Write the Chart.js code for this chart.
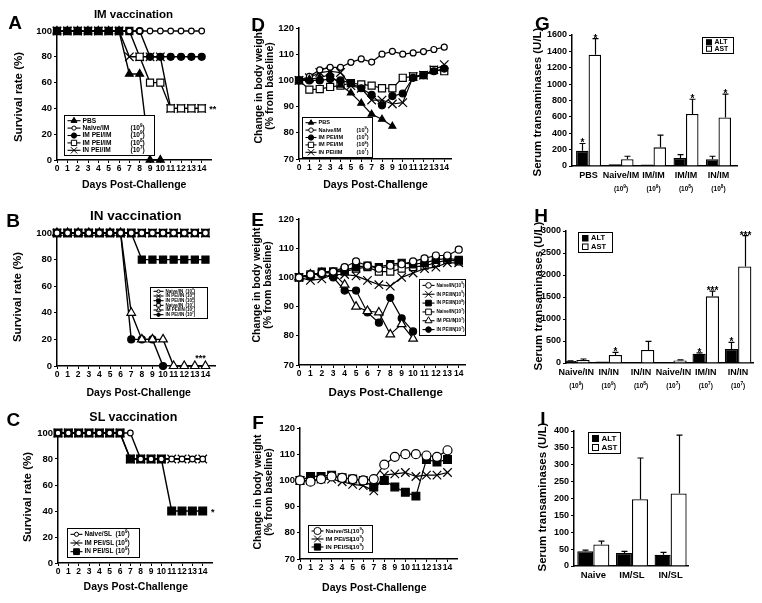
<!DOCTYPE html>
<html>
<head>
<meta charset="utf-8">
<script src="https://cdn.jsdelivr.net/npm/chart.js@4.4.1/dist/chart.umd.min.js"></script>
<style>
body { margin: 0; background: #fff; }
#page { position: relative; width: 762px; height: 603px; overflow: hidden; background: #fff;
        font-family: Arial, "Liberation Sans", sans-serif; font-weight: bold; color: #000; }
#page canvas { position: absolute; }
.t { position: absolute; white-space: nowrap; line-height: 1; transform: translate(-50%, -50%); }
.r { transform: translate(-50%, -50%) rotate(-90deg); }
</style>
</head>
<body>
<div id="page"></div>
<script>
// ---- data ----
const days = [0, 1, 2, 3, 4, 5, 6, 7, 8, 9, 10, 11, 12, 13, 14];

// A: IM vaccination, survival (%)
const namesA = ['PBS', 'Naive/IM', 'IM PEI/IM', 'IM PEI/IM', 'IN PEI/IM'];
const dosesA = ['', '9', '9', '8', '7'];
const survPbsA   = [100, 100, 100, 100, 100, 100, 100, 66.7, 66.7, 0, 0];
const survNaiveA = [100, 100, 100, 100, 100, 100, 100, 100, 100, 100, 100, 100, 100, 100, 100];
const survIm9A   = [100, 100, 100, 100, 100, 100, 100, 100, 100, 80, 80, 80, 80, 80, 80];
const survIm8A   = [100, 100, 100, 100, 100, 100, 100, 100, 80, 60, 60, 40, 40, 40, 40];
const survIn7A   = [100, 100, 100, 100, 100, 100, 100, 80, 80, 80, 80, 40, 40, 40, 40];
const starA = { day: 14, value: 40, text: '**' };

// B: IN vaccination, survival (%)
const namesB = ['Naive/IN', 'IN PEI/IN', 'IN PEI/IN', 'Naive/IN', 'IM PEI/IN', 'IN PEI/IN'];
const dosesB = ['9', '9', '8', '7', '7', '7'];
const survNaive9B = [100, 100, 100, 100, 100, 100, 100, 100, 100, 100, 100, 100, 100, 100, 100];
const survIn9B    = [100, 100, 100, 100, 100, 100, 100, 100, 100, 100, 100, 100, 100, 100, 100];
const survIn8B    = [100, 100, 100, 100, 100, 100, 100, 100, 80, 80, 80, 80, 80, 80, 80];
const survNaive7B = [100, 100, 100, 100, 100, 100, 100, 100, 100, 100, 100, 100, 100, 100, 100];
const survIm7B    = [100, 100, 100, 100, 100, 100, 100, 40, 20, 20, 20, 0, 0, 0, 0];
const survIn7B    = [100, 100, 100, 100, 100, 100, 100, 20, 20, 20, 0];
const starB = { day: 14, value: 0, text: '***' };

// C: SL vaccination, survival (%)
const namesC = ['Naive/SL', 'IM PEI/SL', 'IN PEI/SL'];
const dosesC = ['9', '9', '9'];
const survNaiveC = [100, 100, 100, 100, 100, 100, 100, 100, 80, 80, 80, 80, 80, 80, 80];
const survImC    = [100, 100, 100, 100, 100, 100, 100, 80, 80, 80, 80, 80, 80, 80, 80];
const survInC    = [100, 100, 100, 100, 100, 100, 100, 80, 80, 80, 80, 40, 40, 40, 40];
const starC = { day: 14, value: 40, text: '*' };

// D: body weight (% of baseline), IM groups
const wtPbsD   = [100, 100.5, 101, 102.3, 98.2, 95.2, 91.3, 87.1, 85.2, 82.5];
const wtNaiveD = [100, 101.5, 104, 105, 105, 106.9, 108.2, 107, 110, 111.1, 110, 110.5, 111, 111.8, 112.7];
const wtIm9D   = [100, 100, 100, 100.5, 100, 99, 97, 94.5, 90.5, 94, 95, 101, 102, 103.5, 104.5];
const wtIm8D   = [100, 96.5, 96.7, 97.5, 98, 99, 98.5, 98, 97, 97, 101, 101.5, 102, 104, 103.5];
const wtIn7D   = [100, 101, 103, 103.5, 103, 98, 97, 92.5, 92.5, 91, 91.5, 101.5, 102, 104, 106];

// E: body weight, IN groups
const wtNaive9E = [100, 101, 101.5, 102, 103.5, 105.5, 104, 103, 104, 104.5, 105.5, 106.5, 107.5, 107.5, 109.5];
const wtIn9E    = [100, 99, 99.5, 101, 101, 100.5, 99, 97.5, 97, 100, 101.5, 103, 103.5, 105, 105];
const wtIn8E    = [100, 100.5, 102, 102, 102.5, 103.5, 104, 103.5, 104.5, 105, 104.5, 105, 106, 106.5, 106];
const wtNaive7E = [100, 101, 101.5, 102, 102, 103, 103.5, 102, 102, 103, 103.5, 104, 105, 106, 105.5];
const wtIm7E    = [100, 101, 101.5, 101.5, 97.5, 90, 88.5, 88, 80.5, 84, 79];
const wtIn7E    = [100, 101, 101, 100, 95.5, 95.5, 88, 84.5, 93, 86, 81.5];

// F: body weight, SL groups
const wtNaiveF = [100, 99.5, 100.5, 101.5, 101, 100.5, 100, 100.5, 106, 109, 110, 110, 109.5, 109, 111.5];
const wtImF    = [100, 100, 100.5, 100.5, 99.5, 98.5, 98, 96, 102, 102.5, 103, 101.5, 102, 102, 103];
const wtInF    = [100, 101.5, 101.5, 102, 101, 100.5, 100, 97.5, 100, 97.5, 95.5, 94, 108, 107, 108];

// G: serum transaminases (U/L), IM
const catsG = ['PBS', 'Naive/IM', 'IM/IM', 'IM/IM', 'IN/IM'];
const doseG = ['', '9', '9', '8', '8'];
const altG = [185, 21, 17, 98, 82];
const altErrG = [90, 0, 0, 42, 37];
const astG = [1360, 82, 228, 635, 592];
const astErrG = [195, 37, 148, 180, 285];
const altStarG = ['*', '', '', '', ''];
const astStarG = ['*', '', '', '*', '*'];

// H: serum transaminases (U/L), IN
const catsH = ['Naive/IN', 'IN/IN', 'IN/IN', 'Naive/IN', 'IM/IN', 'IN/IN'];
const doseH = ['9', '9', '8', '7', '7', '7'];
const altH = [45, 36, 23, 23, 211, 317];
const altErrH = [5, 0, 0, 0, 18, 150];
const astH = [68, 181, 295, 59, 1515, 2195];
const astErrH = [23, 59, 195, 11, 120, 700];
const altStarH = ['', '', '', '', '*', '*'];
const astStarH = ['', '*', '', '', '***', '***'];

// I: serum transaminases (U/L), SL
const catsI = ['Naive', 'IM/SL', 'IN/SL'];
const altI = [44, 38.5, 33.5];
const altErrI = [3, 5, 7];
const astI = [64, 198, 215];
const astErrI = [10, 122, 173];

// ---- setup ----
const FONT = 'Arial, "Liberation Sans", sans-serif';
const font = s => 'bold ' + s + 'px ' + FONT;
Chart.defaults.font.family = FONT;
Chart.defaults.font.weight = 'bold';
Chart.defaults.color = '#000';
Chart.defaults.animation = false;
Chart.defaults.plugins.legend.display = false;
Chart.defaults.plugins.tooltip.enabled = false;

// legend drawn inside the plot, like the original figure
const legendBox = {
  id: 'legendBox',
  afterDraw(chart, args, o) {
    if (!o.w) return;
    const ctx = chart.ctx, a = chart.chartArea;
    const x0 = Math.round(a.left + o.x) + 0.5, y0 = Math.round(a.top + o.y) + 0.5;
    const sets = chart.data.datasets, n = sets.length;
    const rh = (o.h - 3) / n;
    ctx.save();
    ctx.fillStyle = '#fff';
    ctx.fillRect(x0, y0, o.w, o.h);
    ctx.strokeStyle = '#000';
    ctx.lineWidth = 1;
    ctx.strokeRect(x0, y0, o.w, o.h);
    ctx.textBaseline = 'middle';
    sets.forEach((ds, i) => {
      const cy = y0 + 1.5 + rh * (i + 0.5);
      ctx.strokeStyle = '#000';
      if (o.swatch) {
        const s = o.swatch;
        ctx.lineWidth = 1;
        ctx.fillStyle = ds.backgroundColor;
        ctx.fillRect(x0 + 4, cy - s / 2, s, s);
        ctx.strokeRect(x0 + 4, cy - s / 2, s, s);
        ctx.fillStyle = '#000';
        ctx.font = font(o.font);
        ctx.fillText(ds.label, x0 + 7 + s, cy);
        return;
      }
      ctx.lineWidth = 1.1;
      ctx.beginPath();
      ctx.moveTo(x0 + 3, cy);
      ctx.lineTo(x0 + 3 + o.lineLen, cy);
      ctx.stroke();
      ctx.lineWidth = 1;
      ctx.fillStyle = ds.pointBackgroundColor;
      Chart.helpers.drawPoint(ctx, { pointStyle: ds.pointStyle, radius: ds.pointRadius * o.mk, borderWidth: 1, rotation: 0 },
        x0 + 3 + o.lineLen / 2, cy);
      ctx.fillStyle = '#000';
      ctx.font = font(o.font);
      ctx.fillText(ds.label, x0 + 5 + o.lineLen, cy);
      if (ds.dose) {
        const dx = x0 + o.doseX;
        ctx.fillText('(10', dx, cy);
        const w1 = ctx.measureText('(10').width;
        ctx.font = font(o.font * 0.7);
        ctx.fillText(ds.dose, dx + w1, cy - o.font * 0.4);
        const w2 = ctx.measureText(ds.dose).width;
        ctx.font = font(o.font);
        ctx.fillText(')', dx + w1 + w2, cy);
      }
    });
    ctx.restore();
  }
};

// significance marks next to a survival point
const starMarks = {
  id: 'starMarks',
  afterDraw(chart, args, o) {
    if (!o.mark) return;
    const ctx = chart.ctx, m = o.mark;
    const x = chart.scales.x.getPixelForValue(m.day) + o.dx;
    const y = chart.scales.y.getPixelForValue(m.value) + o.dy;
    ctx.save();
    ctx.fillStyle = '#000';
    ctx.font = font(o.size);
    ctx.textAlign = 'center';
    ctx.textBaseline = 'middle';
    ctx.fillText(m.text, x, y);
    ctx.restore();
  }
};

// upper error bars and stars for the bar panels
const errBars = {
  id: 'errBars',
  afterDatasetsDraw(chart) {
    const ctx = chart.ctx, ys = chart.scales.y;
    chart.data.datasets.forEach((ds, di) => {
      if (!ds.errors) return;
      const meta = chart.getDatasetMeta(di);
      meta.data.forEach((bar, i) => {
        const v = ds.data[i].y, e = ds.errors[i] || 0;
        const top = ys.getPixelForValue(v + e);
        const x = Math.round(bar.x) + 0.5;
        ctx.save();
        ctx.strokeStyle = '#000';
        ctx.lineWidth = 1.2;
        if (e > 0) {
          ctx.beginPath();
          ctx.moveTo(x, bar.y);
          ctx.lineTo(x, top);
          ctx.moveTo(x - 3, top);
          ctx.lineTo(x + 3, top);
          ctx.stroke();
        }
        if (ds.stars && ds.stars[i]) {
          ctx.fillStyle = '#000';
          ctx.font = font(10);
          ctx.textAlign = 'center';
          ctx.textBaseline = 'alphabetic';
          ctx.fillText(ds.stars[i], x, top + 3);
        }
        ctx.restore();
      });
    });
  }
};

// category names (and doses) under the bar groups
const catLabels = {
  id: 'catLabels',
  afterDraw(chart, args, o) {
    if (!o.names) return;
    const ctx = chart.ctx, xs = chart.scales.x, b = chart.chartArea.bottom;
    ctx.save();
    ctx.fillStyle = '#000';
    ctx.textBaseline = 'alphabetic';
    o.names.forEach((nm, i) => {
      const x = xs.getPixelForValue(i);
      ctx.font = font(o.size);
      ctx.textAlign = 'center';
      ctx.fillText(nm, x, b + 12);
      const d = o.doses && o.doses[i];
      if (d) {
        ctx.textAlign = 'left';
        ctx.font = font(6.5);
        const w1 = ctx.measureText('(10').width, w3 = ctx.measureText(')').width;
        ctx.font = font(4.8);
        const w2 = ctx.measureText(d).width;
        let x1 = x - (w1 + w2 + w3) / 2;
        ctx.font = font(6.5);
        ctx.fillText('(10', x1, b + 25);
        ctx.font = font(4.8);
        ctx.fillText(d, x1 + w1, b + 22);
        ctx.font = font(6.5);
        ctx.fillText(')', x1 + w1 + w2, b + 25);
      }
    });
    ctx.restore();
  }
};

Chart.register(legendBox, starMarks, errBars, catLabels);

const page = document.getElementById('page');
const YW = 40, XH = 34, PT = 12, PR = 14;

function makeChart(area, config) {
  const c = document.createElement('canvas');
  const w = area.r - area.l + YW + PR, h = area.b - area.t + PT + XH;
  c.width = w; c.height = h;
  c.style.width = w + 'px'; c.style.height = h + 'px';
  c.style.left = (area.l - YW) + 'px';
  c.style.top = (area.t - PT) + 'px';
  page.appendChild(c);
  config.options.responsive = false;
  config.options.layout = { padding: { left: 0, top: PT, right: PR, bottom: 0 } };
  return new Chart(c, config);
}

function txt(s, x, y, size, rot) {
  const d = document.createElement('div');
  d.className = 't' + (rot ? ' r' : '');
  d.style.left = x + 'px';
  d.style.top = y + 'px';
  d.style.fontSize = size + 'px';
  d.textContent = s;
  page.appendChild(d);
}

const tickGrid = { display: true, drawOnChartArea: false, drawTicks: true, tickLength: 3, color: '#000', lineWidth: 1 };
const axisBorder = { display: true, color: '#000', width: 1.5 };
const plain = v => String(v);

function lineScales(xmax, ymin, ymax, ystep) {
  return {
    x: { type: 'linear', min: 0, max: xmax, afterFit: s => { s.height = XH; },
         border: axisBorder, grid: tickGrid,
         ticks: { stepSize: 1, includeBounds: false, autoSkip: false, maxRotation: 0, minRotation: 0, padding: 1,
                  callback: plain, font: { size: 8.5, weight: 'bold' } } },
    y: { min: ymin, max: ymax, afterFit: s => { s.width = YW; },
         border: axisBorder, grid: tickGrid,
         ticks: { stepSize: ystep, padding: 2, callback: plain, font: { size: 9.5, weight: 'bold' } } }
  };
}

function barScales(xmin, xmax, ymax, ystep) {
  return {
    x: { type: 'linear', min: xmin, max: xmax, offset: false, afterFit: s => { s.height = XH; },
         border: axisBorder, grid: { display: false }, ticks: { display: false } },
    y: { min: 0, max: ymax, afterFit: s => { s.width = YW; },
         border: axisBorder, grid: tickGrid,
         ticks: { stepSize: ystep, padding: 2, callback: plain, font: { size: 9, weight: 'bold' } } }
  };
}

// marker styles
const mTri    = r => ({ pointStyle: 'triangle', pointRadius: r, pointBackgroundColor: '#000' });
const mTriO   = r => ({ pointStyle: 'triangle', pointRadius: r, pointBackgroundColor: '#fff' });
const mDot    = r => ({ pointStyle: 'circle', pointRadius: r, pointBackgroundColor: '#000' });
const mCirc   = r => ({ pointStyle: 'circle', pointRadius: r, pointBackgroundColor: '#fff' });
const mSq     = r => ({ pointStyle: 'rect', pointRadius: r, pointBackgroundColor: '#000' });
const mSqO    = r => ({ pointStyle: 'rect', pointRadius: r, pointBackgroundColor: '#fff' });
const mX      = r => ({ pointStyle: 'crossRot', pointRadius: r, pointBackgroundColor: '#000' });

function series(label, dose, vals, mk, lw) {
  return Object.assign({
    label: label, dose: dose,
    data: vals.map((v, i) => ({ x: days[i], y: v })),
    borderColor: '#000', borderWidth: lw || 1.4,
    pointBorderColor: '#000', pointBorderWidth: 1.2,
    pointHoverRadius: 0, clip: false, tension: 0, fill: false
  }, mk);
}

function barSet(label, vals, errs, stars, fill, pct) {
  return {
    label: label,
    data: vals.map((v, i) => ({ x: i, y: v })),
    errors: errs, stars: stars,
    backgroundColor: fill, borderColor: '#000', borderWidth: 1.3,
    categoryPercentage: pct, barPercentage: 1
  };
}

// ---- A ----
makeChart({ l: 57, t: 31, r: 211, b: 160 }, {
  type: 'line',
  data: { datasets: [
    series(namesA[0], dosesA[0], survPbsA, mTri(4.5)),
    series(namesA[1], dosesA[1], survNaiveA, mCirc(2.8)),
    series(namesA[2], dosesA[2], survIm9A, mDot(3.5)),
    series(namesA[3], dosesA[3], survIm8A, mSqO(5)),
    series(namesA[4], dosesA[4], survIn7A, mX(6))
  ] },
  options: {
    scales: lineScales(14.9, 0, 100, 20),
    plugins: {
      legendBox: { x: 7, y: 84, w: 90, h: 40, font: 6.6, lineLen: 13, doseX: 66, mk: 0.75 },
      starMarks: { mark: starA, dx: 11, dy: 1, size: 9 }
    }
  }
});

// ---- B ----
makeChart({ l: 57, t: 233, r: 215, b: 366 }, {
  type: 'line',
  data: { datasets: [
    series(namesB[0], dosesB[0], survNaive9B, mCirc(3)),
    series(namesB[1], dosesB[1], survIn9B, mX(6)),
    series(namesB[2], dosesB[2], survIn8B, mSq(5)),
    series(namesB[3], dosesB[3], survNaive7B, mSqO(5)),
    series(namesB[4], dosesB[4], survIm7B, mTriO(5)),
    series(namesB[5], dosesB[5], survIn7B, mDot(3.5))
  ] },
  options: {
    scales: lineScales(14.9, 0, 100, 20),
    plugins: {
      legendBox: { x: 93, y: 54, w: 57, h: 31, font: 4.5, lineLen: 10, doseX: 35, mk: 0.5 },
      starMarks: { mark: starB, dx: -5, dy: -7, size: 9 }
    }
  }
});

// ---- C ----
makeChart({ l: 58, t: 433, r: 212, b: 563 }, {
  type: 'line',
  data: { datasets: [
    series(namesC[0], dosesC[0], survNaiveC, mCirc(2.8)),
    series(namesC[1], dosesC[1], survImC, mX(6)),
    series(namesC[2], dosesC[2], survInC, mSq(5.5))
  ] },
  options: {
    scales: lineScales(14.9, 0, 100, 20),
    plugins: {
      legendBox: { x: 9, y: 95, w: 72, h: 29, font: 6.5, lineLen: 12, doseX: 48, mk: 0.75 },
      starMarks: { mark: starC, dx: 10, dy: 2, size: 9 }
    }
  }
});

// ---- D ----
makeChart({ l: 299, t: 28, r: 451, b: 159 }, {
  type: 'line',
  data: { datasets: [
    series(namesA[0], dosesA[0], wtPbsD, mTri(4), 1.2),
    series(namesA[1], dosesA[1], wtNaiveD, mCirc(3), 1.2),
    series(namesA[2], dosesA[2], wtIm9D, mDot(3.5), 1.2),
    series(namesA[3], dosesA[3], wtIm8D, mSqO(5), 1.2),
    series(namesA[4], dosesA[4], wtIn7D, mX(6), 1.2)
  ] },
  options: {
    scales: lineScales(14.65, 70, 120, 10),
    plugins: { legendBox: { x: 3, y: 89, w: 70, h: 40, font: 5.6, lineLen: 11, doseX: 54, mk: 0.75 } }
  }
});

// ---- E ----
makeChart({ l: 299, t: 219, r: 465, b: 365 }, {
  type: 'line',
  data: { datasets: [
    series(namesB[0], dosesB[0], wtNaive9E, mCirc(3.5), 1.2),
    series(namesB[1], dosesB[1], wtIn9E, mX(6), 1.2),
    series(namesB[2], dosesB[2], wtIn8E, mSq(5), 1.2),
    series(namesB[3], dosesB[3], wtNaive7E, mSqO(5), 1.2),
    series(namesB[4], dosesB[4], wtIm7E, mTriO(5), 1.2),
    series(namesB[5], dosesB[5], wtIn7E, mDot(3.5), 1.2)
  ] },
  options: {
    scales: lineScales(14.55, 70, 120, 10),
    plugins: { legendBox: { x: 120, y: 60, w: 46, h: 56, font: 4.6, lineLen: 12, doseX: 35, mk: 0.8 } }
  }
});

// ---- F ----
makeChart({ l: 300, t: 428, r: 457, b: 559 }, {
  type: 'line',
  data: { datasets: [
    series(namesC[0], dosesC[0], wtNaiveF, mCirc(4.5), 1.2),
    series(namesC[1], dosesC[1], wtImF, mX(6), 1.2),
    series(namesC[2], dosesC[2], wtInF, mSq(5.5), 1.2)
  ] },
  options: {
    scales: lineScales(14.9, 70, 120, 10),
    plugins: { legendBox: { x: 8, y: 97, w: 64, h: 27, font: 6.2, lineLen: 12, doseX: 42, mk: 0.8 } }
  }
});

// ---- G ----
makeChart({ l: 572, t: 35, r: 737, b: 166 }, {
  type: 'bar',
  data: { datasets: [
    barSet('ALT', altG, altErrG, altStarG, '#000', 0.77),
    barSet('AST', astG, astErrG, astStarG, '#fff', 0.77)
  ] },
  options: {
    scales: barScales(-0.51, 4.57, 1600, 200),
    plugins: {
      legendBox: { x: 130, y: 2, w: 31, h: 16, font: 6.9, swatch: 5 },
      catLabels: { names: catsG, doses: doseG, size: 9 }
    }
  }
});

// ---- H ----
makeChart({ l: 566, t: 231, r: 753, b: 363 }, {
  type: 'bar',
  data: { datasets: [
    barSet('ALT', altH, altErrH, altStarH, '#000', 0.82),
    barSet('AST', astH, astErrH, astStarH, '#fff', 0.82)
  ] },
  options: {
    scales: barScales(-0.32, 5.46, 3000, 500),
    plugins: {
      legendBox: { x: 12, y: 1, w: 34, h: 20, font: 7.5, swatch: 5.5 },
      catLabels: { names: catsH, doses: doseH, size: 9 }
    }
  }
});

// ---- I ----
makeChart({ l: 574, t: 431, r: 688, b: 566 }, {
  type: 'bar',
  data: { datasets: [
    barSet('ALT', altI, altErrI, null, '#000', 0.83),
    barSet('AST', astI, astErrI, null, '#fff', 0.83)
  ] },
  options: {
    scales: barScales(-0.5, 2.45, 400, 50),
    plugins: {
      legendBox: { x: 14, y: 1, w: 32, h: 21, font: 8, swatch: 6 },
      catLabels: { names: catsI, size: 9.5 }
    }
  }
});

// ---- panel text ----
[['A', 15, 21.5], ['B', 13, 219.7], ['C', 13.3, 418.8], ['D', 258, 23.7], ['E', 257.5, 218.8],
 ['F', 258, 421.7], ['G', 542.5, 23.3], ['H', 541, 215], ['I', 543, 417.5]]
  .forEach(p => txt(p[0], p[1], p[2], 19));

txt('IM vaccination', 133.5, 14.5, 11.5);
txt('IN vaccination', 135.7, 216.3, 13.5);
txt('SL vaccination', 133.3, 416.7, 12.5);

txt('Days Post-Challenge', 134.2, 184, 10.5);
txt('Days Post-Challenge', 138.7, 391.7, 10.5);
txt('Days Post-Challenge', 135.8, 585.8, 10.5);
txt('Days Post-Challenge', 375.5, 184.2, 10.5);
txt('Days Post-Challenge', 385.8, 392.5, 11.5);
txt('Days Post-Challenge', 374.3, 586.7, 10.5);

txt('Survival rate (%)', 19, 97, 11.5, true);
txt('Survival rate (%)', 18.3, 296.7, 11.5, true);
txt('Survival rate (%)', 28, 496.7, 11.5, true);

txt('Change in body weight', 258, 86, 10.5, true);
txt('(% from baseline)', 269, 86, 10.5, true);
txt('Change in body weight', 256, 285, 10.5, true);
txt('(% from baseline)', 267, 285, 10.5, true);
txt('Change in body weight', 256.7, 492.3, 10.5, true);
txt('(% from baseline)', 268, 492.3, 10.5, true);

txt('Serum transaminases (U/L)', 538.3, 102, 11.5, true);
txt('Serum transaminases (U/L)', 539, 296, 11.5, true);
txt('Serum transaminases (U/L)', 542.5, 497, 11.5, true);
</script>
</body>
</html>
